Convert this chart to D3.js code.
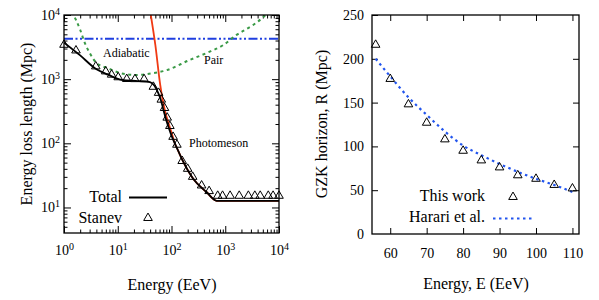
<!DOCTYPE html>
<html>
<head>
<meta charset="utf-8">
<script src="https://cdn.jsdelivr.net/npm/d3@7"></script>
<style>
  body { margin: 0; background: #fff; }
  svg { font-family: "Liberation Serif", "Times New Roman", serif; }
</style>
</head>
<body>
<div id="content"></div>
<script>
// ---- left panel: energy loss lengths (EeV, Mpc) ----
var totalE = [1, 2.0, 3.77, 6.61, 11.7, 24.0, 39.8, 47.9, 56.2, 63.1, 70.8, 79.4, 89.1, 100, 112, 132, 166, 257, 447, 692, 10000];
var totalL = [3715, 2344, 1479, 1175, 977, 935, 900, 794, 617, 479, 331, 234, 174, 132, 105, 77.6, 51.3, 27.5, 17.4, 12.7, 12.7];

var photoE = [41.2, 50.1, 61.7, 75.9, 89.1, 100, 112, 132, 166, 257, 447, 692, 10000];
var photoL = [10000, 3388, 813, 316, 200, 148, 107, 77.6, 51.3, 27.5, 17.4, 12.7, 12.7];

var pairE = [1.41, 2.0, 2.45, 3.05, 4.06, 6.61, 11.7, 20.9, 35.5, 81.3, 219, 457, 912, 1622, 3311, 5129, 6310];
var pairL = [11220, 5888, 3631, 2512, 1778, 1479, 1230, 1161, 1202, 1380, 1995, 2570, 3388, 4898, 6998, 9333, 11220];

var adiabaticE = [1, 10000];
var adiabaticL = [4250, 4250];

var stanevE = [1, 1.67, 3.9, 5.97, 7.7, 10.2, 14.7, 20.9, 30.9, 46, 57.5, 64.6, 74.1, 83.2, 93.3, 107, 126, 158, 200, 248, 363, 501,
               724, 891, 1230, 1820, 2690, 3550, 4470, 6310, 7760, 10000];
var stanevL = [3430, 2800, 1580, 1320, 1175, 1070, 1005, 1000, 1000, 760, 611, 479, 355, 251, 186, 126, 95, 53, 40, 30, 22, 18,
               15.2, 15.2, 15.2, 15.2, 15.2, 15.2, 15.2, 15.2, 15.2, 15.2];

var logMajorX = [1, 10, 100, 1000, 10000];
var logMajorY = [10, 100, 1000, 10000];

// ---- right panel: GZK horizon ----
var workE = [56, 60, 65, 70, 75, 80, 85, 90, 95, 100, 105, 110];
var workR = [216, 177, 148, 127, 108, 95, 84, 76, 67, 63, 56, 52];

var harariE = [56, 60, 65, 70, 75, 80, 85, 90, 95, 100, 105, 110];
var harariR = [200, 180, 156, 136, 117, 101, 90, 80, 71, 63, 56, 48];

var rightTicksX = [60, 70, 80, 90, 100, 110];
var rightTicksY = [0, 50, 100, 150, 200, 250];

var svg = d3.select("#content").append("svg")
  .attr("width", 599).attr("height", 300)
  .attr("font-family", "Liberation Serif, Times New Roman, serif");

function zip(a, b) { return a.map(function (v, i) { return [v, b[i]]; }); }

// ================= LEFT =================
var x1 = d3.scaleLog().domain([1, 1e4]).range([64, 279]);
var y1 = d3.scaleLog().domain([4, 1e4]).range([233, 15]);

svg.append("clipPath").attr("id", "clipL").append("rect")
  .attr("x", 64).attr("y", 15).attr("width", 215).attr("height", 218);

var minorX = x1.ticks().filter(function (d) { return logMajorX.indexOf(d) < 0; });
var minorY = y1.ticks().filter(function (d) { return logMajorY.indexOf(d) < 0 && d > 4; });

function supLabels(sel) {
  sel.selectAll(".tick text").each(function (d) {
    var t = d3.select(this);
    t.text("10");
    t.append("tspan").attr("dy", "-0.5em").attr("font-size", "10px")
      .text(Math.round(Math.log10(d)));
  });
}

var gxb = svg.append("g").attr("transform", "translate(0,233)")
  .call(d3.axisBottom(x1).tickValues(logMajorX).tickSizeInner(-7).tickSizeOuter(0).tickPadding(12).tickFormat(function () { return ""; }));
supLabels(gxb);
svg.append("g").attr("transform", "translate(0,233)")
  .call(d3.axisBottom(x1).tickValues(minorX).tickSizeInner(-3.5).tickSizeOuter(0).tickFormat(""));
svg.append("g").attr("transform", "translate(0,15)")
  .call(d3.axisTop(x1).tickValues(logMajorX).tickSizeInner(-7).tickSizeOuter(0).tickFormat(""));
svg.append("g").attr("transform", "translate(0,15)")
  .call(d3.axisTop(x1).tickValues(minorX).tickSizeInner(-3.5).tickSizeOuter(0).tickFormat(""));

var gyl = svg.append("g").attr("transform", "translate(64,0)")
  .call(d3.axisLeft(y1).tickValues(logMajorY).tickSizeInner(-7).tickSizeOuter(0).tickPadding(4).tickFormat(function () { return ""; }));
supLabels(gyl);
svg.append("g").attr("transform", "translate(64,0)")
  .call(d3.axisLeft(y1).tickValues(minorY).tickSizeInner(-3.5).tickSizeOuter(0).tickFormat(""));
svg.append("g").attr("transform", "translate(279,0)")
  .call(d3.axisRight(y1).tickValues(logMajorY).tickSizeInner(-7).tickSizeOuter(0).tickFormat(""));
svg.append("g").attr("transform", "translate(279,0)")
  .call(d3.axisRight(y1).tickValues(minorY).tickSizeInner(-3.5).tickSizeOuter(0).tickFormat(""));

var lineL = d3.line()
  .x(function (d) { return x1(d[0]); })
  .y(function (d) { return y1(d[1]); })
  .curve(d3.curveMonotoneX);

var curves = svg.append("g").attr("clip-path", "url(#clipL)");
curves.append("path").datum(zip(adiabaticE, adiabaticL)).attr("d", lineL)
  .attr("fill", "none").attr("stroke", "#1f3fe0").attr("stroke-width", 2)
  .attr("stroke-dasharray", "9,2.5,2,2.5,2,2.5");
curves.append("path").datum(zip(pairE, pairL)).attr("d", lineL)
  .attr("fill", "none").attr("stroke", "#3a9a46").attr("stroke-width", 2)
  .attr("stroke-dasharray", "3,3.5");
curves.append("path").datum(zip(photoE, photoL)).attr("d", lineL)
  .attr("fill", "none").attr("stroke", "#f03a14").attr("stroke-width", 1.8);
curves.append("path").datum(zip(totalE, totalL)).attr("d", lineL)
  .attr("fill", "none").attr("stroke", "#000").attr("stroke-width", 1.8);

var tri = d3.symbol().type(d3.symbolTriangle).size(32);
svg.append("g").selectAll("path").data(zip(stanevE, stanevL)).enter().append("path")
  .attr("d", tri)
  .attr("transform", function (d) { return "translate(" + x1(d[0]) + "," + y1(d[1]) + ")"; })
  .attr("fill", "none").attr("stroke", "#000").attr("stroke-width", 1);

svg.append("rect").attr("x", 64).attr("y", 15).attr("width", 215).attr("height", 218)
  .attr("fill", "none").attr("stroke", "#000").attr("stroke-width", 1.3);

svg.append("text").attr("x", 103).attr("y", 57).attr("font-size", "12px").text("Adiabatic");
svg.append("text").attr("x", 204).attr("y", 64).attr("font-size", "12px").text("Pair");
svg.append("text").attr("x", 189).attr("y", 147).attr("font-size", "12px").text("Photomeson");

svg.append("text").attr("x", 122).attr("y", 202).attr("text-anchor", "end").attr("font-size", "16px").text("Total");
svg.append("line").attr("x1", 129).attr("x2", 167).attr("y1", 197.5).attr("y2", 197.5)
  .attr("stroke", "#000").attr("stroke-width", 1.8);
svg.append("text").attr("x", 122).attr("y", 223).attr("text-anchor", "end").attr("font-size", "16px").text("Stanev");
svg.append("path").attr("d", tri).attr("transform", "translate(148,218)")
  .attr("fill", "none").attr("stroke", "#000").attr("stroke-width", 1);

svg.append("text").attr("x", 172).attr("y", 290).attr("text-anchor", "middle").attr("font-size", "16px").text("Energy (EeV)");
svg.append("text").attr("transform", "translate(32,124) rotate(-90)").attr("text-anchor", "middle")
  .attr("font-size", "16px").text("Energy loss length (Mpc)");

// ================= RIGHT =================
var x2 = d3.scaleLinear().domain([55, 111.8]).range([372, 579]);
var y2 = d3.scaleLinear().domain([0, 250]).range([234, 15]);

svg.append("g").attr("transform", "translate(0,234)")
  .call(d3.axisBottom(x2).tickValues(rightTicksX).tickSizeInner(-6).tickSizeOuter(0).tickPadding(14).tickFormat(d3.format("d")));
svg.append("g").attr("transform", "translate(0,15)")
  .call(d3.axisTop(x2).tickValues(rightTicksX).tickSizeInner(-6).tickSizeOuter(0).tickFormat(""));
svg.append("g").attr("transform", "translate(372,0)")
  .call(d3.axisLeft(y2).tickValues(rightTicksY.slice(1)).tickSizeInner(-6).tickSizeOuter(0).tickPadding(8).tickFormat(d3.format("d")));
svg.append("g").attr("transform", "translate(372,0)")
  .call(d3.axisLeft(y2).tickValues([0]).tickSize(0).tickPadding(8).tickFormat(d3.format("d")));
svg.append("g").attr("transform", "translate(579,0)")
  .call(d3.axisRight(y2).tickValues(rightTicksY.slice(1, 5)).tickSizeInner(-6).tickSizeOuter(0).tickFormat(""));

var lineR = d3.line()
  .x(function (d) { return x2(d[0]); })
  .y(function (d) { return y2(d[1]); })
  .curve(d3.curveMonotoneX);

svg.append("path").datum(zip(harariE, harariR)).attr("d", lineR)
  .attr("fill", "none").attr("stroke", "#2255ee").attr("stroke-width", 2.2)
  .attr("stroke-dasharray", "2.5,3.5");

svg.append("g").selectAll("path").data(zip(workE, workR)).enter().append("path")
  .attr("d", tri)
  .attr("transform", function (d) { return "translate(" + x2(d[0]) + "," + y2(d[1]) + ")"; })
  .attr("fill", "none").attr("stroke", "#000").attr("stroke-width", 1);

svg.append("rect").attr("x", 372).attr("y", 15).attr("width", 207).attr("height", 219)
  .attr("fill", "none").attr("stroke", "#000").attr("stroke-width", 1.3);

svg.append("text").attr("x", 485).attr("y", 201).attr("text-anchor", "end").attr("font-size", "16px").text("This work");
svg.append("path").attr("d", tri).attr("transform", "translate(513,197)")
  .attr("fill", "none").attr("stroke", "#000").attr("stroke-width", 1);
svg.append("text").attr("x", 485).attr("y", 222).attr("text-anchor", "end").attr("font-size", "16px").text("Harari et al.");
svg.append("line").attr("x1", 493).attr("x2", 533).attr("y1", 218.5).attr("y2", 218.5)
  .attr("stroke", "#2255ee").attr("stroke-width", 2.2).attr("stroke-dasharray", "2.5,3.5");

svg.append("text").attr("x", 476).attr("y", 289).attr("text-anchor", "middle").attr("font-size", "16px").text("Energy, E (EeV)");
svg.append("text").attr("transform", "translate(327,124) rotate(-90)").attr("text-anchor", "middle")
  .attr("font-size", "16px").text("GZK horizon, R (Mpc)");

svg.selectAll(".domain").remove();
svg.selectAll(".tick line").attr("stroke", "#000").attr("stroke-width", 1);
svg.selectAll("g").attr("font-family", null);
svg.selectAll(".tick text").attr("fill", "#000").attr("font-size", "14px")
  .attr("font-family", "Liberation Serif, Times New Roman, serif");
svg.selectAll(".tick text tspan").attr("font-size", "10px");
</script>
</body>
</html>
